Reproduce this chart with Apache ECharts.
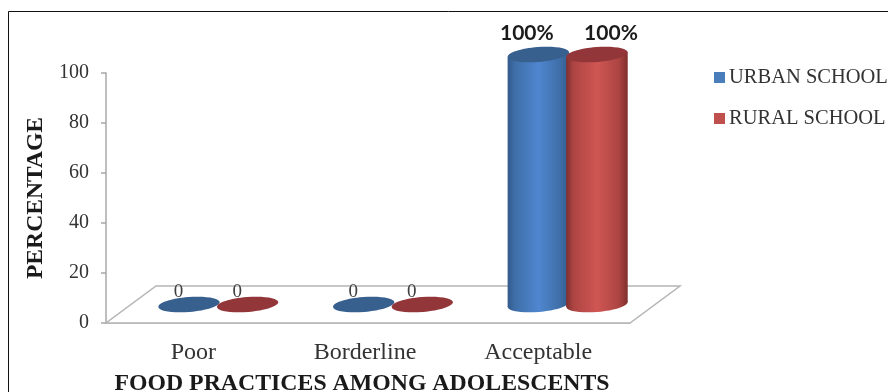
<!DOCTYPE html>
<html>
<head>
<meta charset="utf-8">
<style>
  html, body { margin: 0; padding: 0; background: #fff; }
  #chart { width: 888px; height: 392px; }
</style>
<script src="https://cdn.jsdelivr.net/npm/echarts@6/dist/echarts.min.js"></script>
</head>
<body>
<div id="chart"></div>
<script>
const categories = ['Poor', 'Borderline', 'Acceptable']
const urbanValues = [0, 0, 100]
const ruralValues = [0, 0, 100]
const urbanLabels = ['0', '0', '100%']
const ruralLabels = ['0', '0', '100%']
const seriesNames = ['URBAN SCHOOL', 'RURAL SCHOOL']

const serif = '"Liberation Serif", serif'
// fake 3d: how far the floor goes back from the axis
const depthX = 50
const depthY = 37
const barWidth = 61.5
const tilt = 0.08

function floorItem(params, api) {
  const g = params.coordSys
  const bottom = g.y + g.height
  const right = g.x + g.width
  return {
    type: 'polygon',
    shape: { points: [[g.x, bottom], [right, bottom], [right + depthX, bottom - depthY], [g.x + depthX, bottom - depthY]] },
    style: { fill: '#fff', stroke: '#b5b5b5', lineWidth: 1.5 }
  }
}

// one cylinder, a flat ellipse when the value is 0
function cylinderItem(look, labels) {
  return function (params, api) {
    const val = api.value(1)
    const base = api.coord([api.value(0), 0])
    const tip = api.coord([api.value(0), val])
    const cx = base[0] + depthX / 2 + look.shift
    const y0 = base[1] - depthY / 2
    const y1 = tip[1] - depthY / 2
    const rx = barWidth / 2
    const lift = rx * Math.sin(tilt)
    const children = []
    if (val > 0) {
      const fill = new echarts.graphic.LinearGradient(0, 0, 1, 0, [
        { offset: 0, color: look.edge },
        { offset: 0.12, color: look.mid },
        { offset: 0.5, color: look.light },
        { offset: 0.85, color: look.mid },
        { offset: 1, color: look.edge }
      ])
      children.push({
        type: 'ellipse',
        shape: { cx: cx, cy: y0, rx: rx, ry: 7.5 },
        rotation: tilt,
        originX: cx,
        originY: y0,
        style: { fill: fill }
      })
      children.push({
        type: 'polygon',
        shape: { points: [[cx - rx, y1 + lift], [cx + rx, y1 - lift], [cx + rx, y0 - lift], [cx - rx, y0 + lift]] },
        style: { fill: fill }
      })
    }
    children.push({
      type: 'ellipse',
      shape: { cx: cx, cy: val > 0 ? y1 : y0, rx: rx, ry: 7.5 },
      rotation: tilt,
      originX: cx,
      originY: val > 0 ? y1 : y0,
      style: { fill: look.cap }
    })
    children.push({
      type: 'text',
      x: cx + (val > 0 ? look.bigLabelDx : -10.5),
      y: val > 0 ? y1 - 21.5 : y0 - 12,
      style: {
        text: labels[params.dataIndex],
        align: 'center',
        verticalAlign: 'middle',
        fill: val > 0 ? '#1a1a1a' : '#404040',
        font: val > 0 ? 'bold 21px Lato, sans-serif' : '19px ' + serif
      }
    })
    return { type: 'group', children: children }
  }
}

const urbanLook = { shift: -29.3, edge: '#335a8c', mid: '#3f6fa8', light: '#4f86cf', cap: '#38608f', bigLabelDx: -11.5 }
const ruralLook = { shift: 29.3, edge: '#7f2f2d', mid: '#ad4543', light: '#cf5653', cap: '#93363a', bigLabelDx: 14 }

function rows(values) {
  return values.map(function (v, i) { return [i, v] })
}

var myChart = echarts.init(document.getElementById('chart'))
var option = {
  animation: false,
  backgroundColor: '#fff',
  textStyle: { fontFamily: serif },
  graphic: [
    { type: 'line', shape: { x1: 8.5, y1: 11.5, x2: 888, y2: 11.5 }, style: { stroke: '#111', lineWidth: 1 } },
    { type: 'line', shape: { x1: 8.5, y1: 11.5, x2: 8.5, y2: 392 }, style: { stroke: '#111', lineWidth: 1 } }
  ],
  grid: { left: 106, right: 258, top: 73, bottom: 69, outerBoundsMode: 'none' },
  legend: {
    orient: 'vertical',
    left: 709,
    top: 62,
    icon: 'rect',
    itemWidth: 11,
    itemHeight: 11,
    itemGap: 20,
    data: [
      { name: seriesNames[0], itemStyle: { color: '#4a7ebb' } },
      { name: seriesNames[1], itemStyle: { color: '#c0504d' } }
    ],
    textStyle: { fontFamily: serif, fontSize: 20.5, lineHeight: 20, color: '#333', padding: [0, 0, 0, -1] }
  },
  xAxis: {
    type: 'category',
    data: categories,
    name: 'FOOD PRACTICES AMONG ADOLESCENTS',
    nameLocation: 'middle',
    nameGap: 49,
    nameTextStyle: { fontFamily: serif, fontSize: 23.8, fontWeight: 'bold', color: '#1a1a1a', padding: [0, 12, 0, 0] },
    axisLine: { lineStyle: { color: '#b5b5b5', width: 1.5 } },
    axisTick: { show: false },
    axisLabel: {
      margin: 18,
      // labels sit a little left of the slot centres in the original
      formatter: function (value, index) {
        return '{c' + index + '|' + value + '}'
      },
      rich: {
        c0: { fontFamily: serif, fontSize: 24, color: '#333' },
        c1: { fontFamily: serif, fontSize: 24, color: '#333', padding: [0, 6, 0, 0] },
        c2: { fontFamily: serif, fontSize: 24, color: '#333', padding: [0, 9, 0, 0] }
      }
    }
  },
  yAxis: {
    type: 'value',
    min: 0,
    max: 100,
    interval: 20,
    name: 'PERCENTAGE',
    nameLocation: 'middle',
    nameGap: 53,
    nameTextStyle: { fontFamily: serif, fontSize: 23.6, fontWeight: 'bold', color: '#1a1a1a' },
    axisLine: { show: true, lineStyle: { color: '#a8a8a8', width: 1.5 } },
    axisTick: { show: true, length: 5, lineStyle: { color: '#a8a8a8', width: 1.5 } },
    axisLabel: { fontFamily: serif, fontSize: 20, color: '#333', margin: 17 },
    splitLine: { show: false }
  },
  series: [
    { name: 'floor', type: 'custom', z: 1, silent: true, renderItem: floorItem, data: [[0, 0]] },
    {
      name: seriesNames[0],
      type: 'custom',
      z: 2,
      itemStyle: { color: '#4a7ebb' },
      renderItem: cylinderItem(urbanLook, urbanLabels),
      data: rows(urbanValues)
    },
    {
      name: seriesNames[1],
      type: 'custom',
      z: 3,
      itemStyle: { color: '#c0504d' },
      renderItem: cylinderItem(ruralLook, ruralLabels),
      data: rows(ruralValues)
    }
  ]
}
myChart.setOption(option)
</script>
</body>
</html>
